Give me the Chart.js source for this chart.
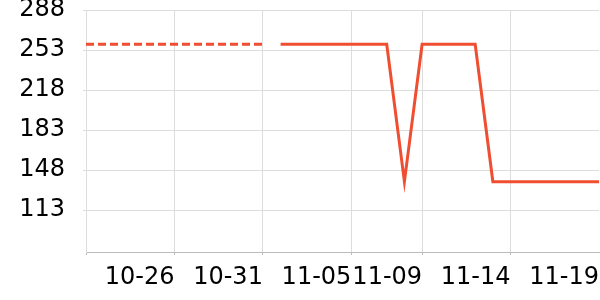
<!DOCTYPE html>
<html><head><meta charset="utf-8">
<script src="https://cdn.jsdelivr.net/npm/chart.js@4"></script>
<style>html,body{margin:0;padding:0;background:#fff}#w{width:600px;height:300px;position:relative}</style>
</head><body><div id="w"><canvas id="c"></canvas></div>
<script>
const categories = ['10-21','10-22','10-23','10-24','10-25','10-26','10-27','10-28','10-29','10-30',
  '10-31','11-01','11-02','11-03','11-04','11-05','11-06','11-07','11-08','11-09',
  '11-10','11-11','11-12','11-13','11-14','11-15','11-16','11-17','11-18','11-19'];
const dashedValues = [258,258,258,258,258,258,258,258,258,258,258,
  null,null,null,null,null,null,null,null,null,null,null,null,null,null,null,null,null,null,null];
const solidValues = [null,null,null,null,null,null,null,null,null,null,null,
  258,258,258,258,258,258,258,138,258,258,258,258,138,138,138,138,138,138,138];
const xTickLabels = ['10-26','10-31','11-05','11-09','11-14','11-19'];
const yTickValues = [113,148,183,218,253,288];

const lineColor = '#f04e30';
const font = {family: 'DejaVu Sans', size: 24};
const shown = i => i === 0 || (i < categories.length - 1 && xTickLabels.includes(categories[i]));

new Chart(document.getElementById('c'), {
  type: 'line',
  data: {
    labels: categories,
    datasets: [
      {data: dashedValues, borderColor: lineColor, borderWidth: 3, borderDash: [8,4], pointRadius: 0, tension: 0, fill: false, spanGaps: false},
      {data: solidValues, borderColor: lineColor, borderWidth: 3, pointRadius: 0, tension: 0, fill: false, spanGaps: false}
    ]
  },
  options: {
    responsive: true, maintainAspectRatio: false, animation: false,
    layout: {padding: {top: 10, right: 1, left: 0, bottom: 0}},
    plugins: {legend: {display: false}, tooltip: {enabled: false}},
    scales: {
      x: {
        offset: false,
        grid: {
          color: ctx => shown(ctx.index) ? '#dddddd' : 'rgba(0,0,0,0)',
          tickColor: ctx => shown(ctx.index) ? '#bbbbbb' : 'rgba(0,0,0,0)',
          tickLength: 3
        },
        border: {color: '#bbbbbb'},
        ticks: {
          autoSkip: false, maxRotation: 0, minRotation: 0, align: 'end',
          color: '#000', font: font, padding: 8,
          callback: (v, i) => xTickLabels.includes(categories[i]) ? categories[i] : ''
        },
        afterFit: s => { s.height = 48; s.paddingLeft = 0; s.paddingRight = 0; }
      },
      y: {
        min: 76.5, max: 288,
        afterBuildTicks: s => { s.ticks = yTickValues.map(v => ({value: v})); },
        grid: {color: '#dddddd', tickColor: '#dddddd', tickLength: 3},
        border: {color: '#dddddd'},
        ticks: {color: '#000', font: font, padding: 18},
        afterFit: s => { s.width = 86; s.paddingTop = 0; s.paddingBottom = 0; }
      }
    }
  }
});
</script>
</body></html>
